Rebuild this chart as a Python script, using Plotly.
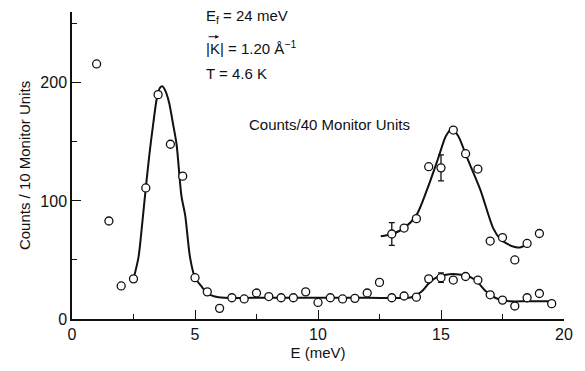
import plotly.graph_objects as go

# Counts / 10 monitor units (lower series)
E_main = [1.0, 1.5, 2.0, 2.5, 3.0, 3.5, 4.0, 4.5, 5.0, 5.5, 6.0, 6.5, 7.0, 7.5, 8.0,
          8.5, 9.0, 9.5, 10.0, 10.5, 11.0, 11.5, 12.0, 12.5, 13.0, 13.5, 14.0, 14.5,
          15.0, 15.5, 16.0, 16.5, 17.0, 17.5, 18.0, 18.5, 19.0, 19.5]
C_main = [216, 83, 28, 34, 111, 190, 148, 121, 35, 23, 9, 18, 17, 22, 19,
          18, 18, 23, 14, 18, 17, 17.5, 22, 31, 18, 19.5, 18.5, 34,
          35, 33, 36, 33, 20.5, 16, 11, 18, 21.6, 13]

# Counts / 40 monitor units (upper series)
E_up = [13.0, 13.5, 14.0, 14.5, 15.0, 15.5, 16.0, 16.5, 17.0, 17.5, 18.0, 18.5, 19.0]
C_up = [72, 77, 85, 129, 128, 160, 140, 127, 66, 69, 50, 64, 72.4]

# error bars (E, value, half-width)
err_main_E = [15.0]; err_main_C = [35]; err_main_d = [4]
err_up_E = [13.0, 15.0]; err_up_C = [72, 128]; err_up_d = [9.6, 11]

# hand-drawn guide curves
curve1_E = [2.5, 2.7, 2.85, 3.0, 3.15, 3.3, 3.45, 3.58, 3.68, 3.8, 3.95, 4.1, 4.25,
            4.45, 4.6, 4.8, 5.0, 5.25, 5.5, 5.8, 6.2, 8.0, 10.0, 12.0, 13.8, 14.2,
            14.5, 14.8, 15.2, 15.6, 16.0, 16.4, 16.8, 17.2, 17.5, 17.8, 18.5, 19.5]
curve1_C = [34, 52, 80, 111, 140, 165, 187, 196, 197, 193, 183, 166, 148,
            104, 88, 52, 35, 28, 22, 19, 18, 18, 18, 18, 18.5, 23,
            30, 35, 37.5, 38, 37, 33, 24, 18, 16, 15, 15, 15]
curve2_E = [12.55, 13.0, 13.5, 14.0, 14.44, 14.9, 15.2, 15.44, 15.7, 16.05, 16.59,
            17.12, 17.4, 17.66, 18.0, 18.2, 18.47]
curve2_C = [70, 72, 77, 88, 110, 137, 155, 161, 155, 137, 110,
            77, 68, 64, 61, 60.5, 63]

FONT = "Liberation Sans, Arial, sans-serif"
INK = "#111111"

fig = go.Figure()
for ce, cc in [(curve1_E, curve1_C), (curve2_E, curve2_C)]:
    fig.add_trace(go.Scatter(x=ce, y=cc, mode="lines",
                             line=dict(color=INK, width=2, shape="spline", smoothing=0.8),
                             hoverinfo="skip", showlegend=False))

for ee, cc, dd in [(err_main_E, err_main_C, err_main_d), (err_up_E, err_up_C, err_up_d)]:
    fig.add_trace(go.Scatter(x=ee, y=cc, mode="markers",
                             marker=dict(size=1, color="rgba(0,0,0,0)"),
                             error_y=dict(type="data", array=dd, color=INK,
                                          thickness=1.3, width=3),
                             showlegend=False))

for ee, cc in [(E_main, C_main), (E_up, C_up)]:
    fig.add_trace(go.Scatter(x=ee, y=cc, mode="markers",
                             marker=dict(symbol="circle", size=8, color="white",
                                         line=dict(color=INK, width=1.3)),
                             showlegend=False))

ann = [
    dict(x=5.36, y=256, text="E<sub>f</sub> = 24 meV"),
    dict(x=5.36, y=230, text="|K| = 1.20 \u00c5<sup>\u22121</sup>"),
    dict(x=5.36, y=208, text="T = 4.6 K"),
]
for a in ann:
    fig.add_annotation(x=a["x"], y=a["y"], text=a["text"], xref="x", yref="y",
                       xanchor="left", yanchor="middle", showarrow=False,
                       font=dict(family=FONT, size=15, color=INK))
# vector arrow over K (drawn as an arrow, not text)
fig.add_annotation(x=5.98, y=239, xref="x", yref="y", text="", showarrow=True,
                   ax=-12, ay=0, axref="pixel", ayref="pixel",
                   arrowhead=2, arrowsize=0.7, arrowwidth=1.1, arrowcolor=INK,
                   standoff=0, startstandoff=0)
fig.add_annotation(x=10.48, y=165, text="Counts/40 Monitor Units", xref="x", yref="y",
                   xanchor="center", yanchor="middle", showarrow=False,
                   font=dict(family=FONT, size=15, color=INK))

fig.update_xaxes(range=[0, 20], tickmode="array", tickvals=[0, 5, 10, 15, 20],
                 ticktext=["0", "5", "10", "15", "20"],
                 ticks="inside", ticklen=9, tickwidth=1.3, tickcolor=INK,
                 minor=dict(tickvals=[2.5, 7.5, 12.5, 17.5], ticks="inside",
                            ticklen=5, tickwidth=1.3, tickcolor=INK),
                 showline=True, linecolor=INK, linewidth=1.5, showgrid=False,
                 zeroline=False, tickfont=dict(family=FONT, size=16, color=INK),
                 title=dict(text="E (meV)", font=dict(family=FONT, size=15, color=INK),
                            standoff=6))
fig.update_yaxes(range=[0, 260], tickmode="array", tickvals=[0, 100, 200],
                 ticktext=["0", "100", "200"],
                 ticks="inside", ticklen=9, tickwidth=1.3, tickcolor=INK,
                 minor=dict(tickvals=[50, 150, 250], ticks="inside",
                            ticklen=5, tickwidth=1.3, tickcolor=INK),
                 showline=True, linecolor=INK, linewidth=1.5, showgrid=False,
                 zeroline=False, tickfont=dict(family=FONT, size=16, color=INK),
                 title=dict(text="Counts / 10 Monitor Units",
                            font=dict(family=FONT, size=15, color=INK), standoff=6))

fig.update_layout(width=585, height=371, margin=dict(l=72, r=17, t=12, b=44),
                  plot_bgcolor="white", paper_bgcolor="white", showlegend=False)

fig.write_html("out.html")
